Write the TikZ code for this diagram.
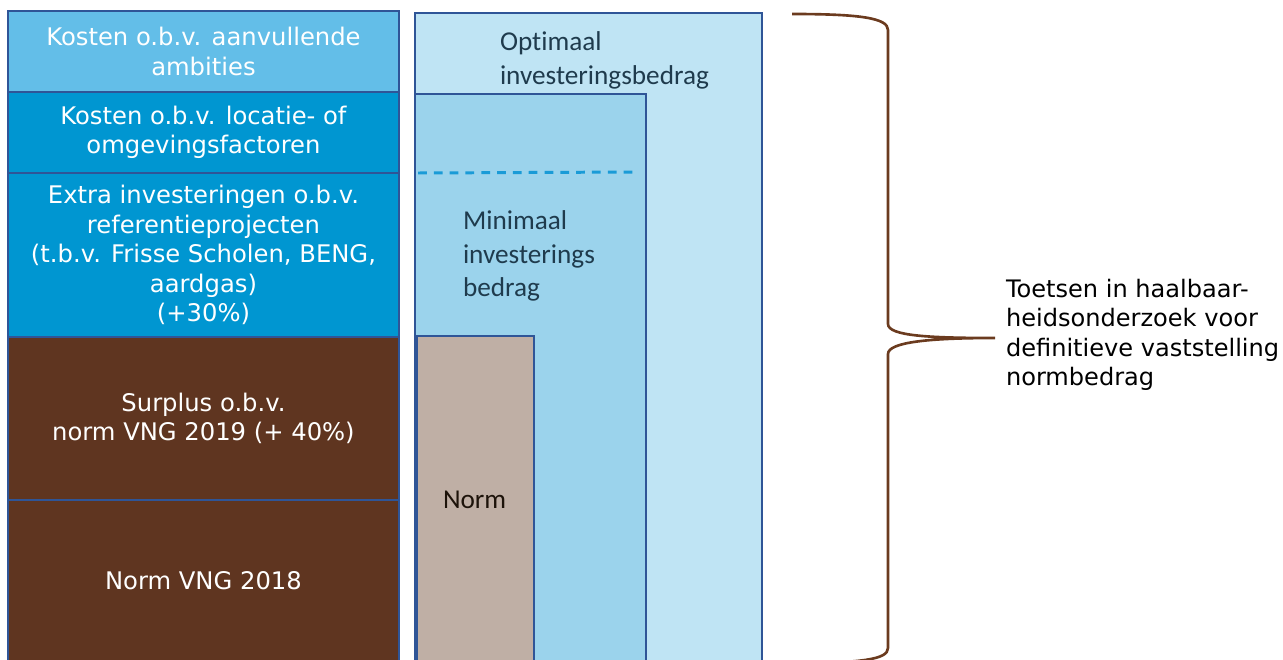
\documentclass[tikz,border=0pt]{standalone}
\usepackage{fontspec}
\setmainfont{DejaVu Sans}
\newfontfamily\carlito[Ligatures=NoCommon]{Carlito}
\usetikzlibrary{positioning}
\definecolor{lichtblauw}{HTML}{63BEE8}
\definecolor{middenblauw}{HTML}{0096D1}
\definecolor{bruin}{HTML}{5F3520}
\definecolor{rand}{HTML}{2F5597}
\definecolor{optimaalblauw}{HTML}{BFE4F4}
\definecolor{minimaalblauw}{HTML}{9BD3EC}
\definecolor{normgrijs}{HTML}{BFAFA5}
\definecolor{leitekst}{HTML}{1F3B4D}
\definecolor{accolade}{HTML}{6B3B1F}
\definecolor{streep}{HTML}{1A9BD7}

\begin{document}
\begin{tikzpicture}[x=0.02cm, y=-0.02cm, node distance=0pt, outer sep=0pt]
        \tikzset{blok/.style={draw=rand, line width=0.8pt, minimum width=7.82cm, inner sep=0pt,
                align=center, text=white, font=\fontsize{13.8}{16.8}\selectfont},
                vlak/.style={draw=rand, line width=0.8pt, inner sep=0pt, anchor=north west},
                zacht/.style={inner sep=0pt, align=left, text=leitekst, font=\carlito\fontsize{15.5}{19}\selectfont}}
        \useasboundingbox (0,0) rectangle (1283,659);
        \clip (0,0) rectangle (1283,659);

        % linker kolom
        \node[blok, fill=lichtblauw, minimum height=1.62cm, anchor=north west] (ambities) at (8,11) {Kosten o.b.v. aanvullende\\ambities};
        \node[blok, fill=middenblauw, minimum height=1.62cm] (locatie) [below=of ambities] {Kosten o.b.v. locatie- of\\omgevingsfactoren};
        \node[blok, fill=middenblauw, minimum height=3.28cm] (extra) [below=of locatie] {Extra investeringen o.b.v.\\referentieprojecten\\(t.b.v. Frisse Scholen, BENG,\\aardgas)\\(+30\%)};
        \node[blok, fill=bruin, minimum height=3.26cm] (surplus) [below=of extra] {Surplus o.b.v.\\norm VNG 2019 (+ 40\%)};
        \node[blok, fill=bruin, minimum height=3.24cm] (vng) [below=of surplus] {Norm VNG 2018};

        % rechter kolom
        \node[vlak, fill=optimaalblauw, minimum width=6.94cm, minimum height=13.4cm] (optimaal) at (415,13) {};
        \node[vlak, fill=minimaalblauw, minimum width=4.62cm, minimum height=11.8cm] (minimaal) at (415,94) {};
        \node[vlak, fill=normgrijs, minimum width=2.34cm, minimum height=7.0cm] (norm) at (417,336) {};
        \draw[streep, line width=1.7pt, dash pattern=on 5pt off 4pt] (418,173) -- (636,172);

        \node[zacht, anchor=north west] (optimaaltekst) at ([shift={(85,19)}]optimaal.north west) {Optimaal\\investeringsbedrag};
        \node[zacht, anchor=north west] (minimaaltekst) at ([shift={(48,117)}]minimaal.north west) {Minimaal\\investerings\\bedrag};
        \node[zacht, anchor=west, text=black!85!brown] (normtekst) at ([shift={(26,164)}]norm.north west) {Norm};

        % accolade en toelichting
        \node[inner sep=0pt, align=left, anchor=west, font=\fontsize{13.7}{16.7}\selectfont] (toetsen) at (1006,335)
                {Toetsen in haalbaar-\\heidsonderzoek voor\\definitieve vaststelling\\normbedrag};
        \coordinate (punt) at (995,338);
        \draw[accolade, line width=1.5pt]
                (792,14) .. controls (860,14) and (888,18) .. (888,30)
                -- (888,324) .. controls (888,336) and (930,338) .. (punt)
                (punt) .. controls (930,338) and (888,342) .. (888,354)
                -- (888,648) .. controls (888,660) and (860,662) .. (800,664);
\end{tikzpicture}
\end{document}
